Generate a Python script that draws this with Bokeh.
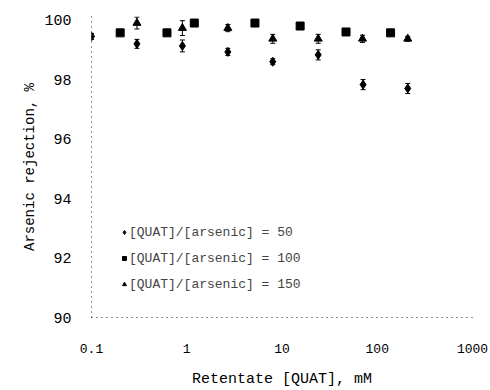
from bokeh.plotting import figure
from bokeh.models import (ColumnDataSource, Whisker, TeeHead, FixedTicker,
                          CustomJSTickFormatter, Legend, LegendItem, Range1d)
from bokeh.embed import file_html
from bokeh.resources import INLINE

# Data
ratio50_x = [0.1, 0.3, 0.9, 2.7, 8.0, 24, 71, 209]
ratio50_y = [99.45, 99.2, 99.13, 98.93, 98.6, 98.83, 97.83, 97.7]
ratio50_err = [0.1, 0.15, 0.2, 0.12, 0.1, 0.17, 0.17, 0.17]

ratio100_x = [0.2, 0.62, 1.2, 5.2, 15.5, 47, 138]
ratio100_y = [99.57, 99.57, 99.9, 99.9, 99.8, 99.6, 99.57]
ratio100_err = [0.06, 0.06, 0.08, 0.08, 0.08, 0.06, 0.06]

ratio150_x = [0.3, 0.9, 2.7, 8.0, 24, 70, 209]
ratio150_y = [99.9, 99.73, 99.73, 99.37, 99.37, 99.37, 99.37]
ratio150_err = [0.2, 0.25, 0.12, 0.15, 0.15, 0.12, 0.08]

labels = ["[QUAT]/[arsenic] = 50", "[QUAT]/[arsenic] = 100", "[QUAT]/[arsenic] = 150"]
x_ticks = [0.1, 1, 10, 100, 1000]
y_ticks = [90, 92, 94, 96, 98, 100]

FONT = "Liberation Mono"

p = figure(width=488, height=390, x_axis_type="log",
           x_range=Range1d(0.1, 1000), y_range=Range1d(90, 100.12),
           output_backend="svg", toolbar_location=None,
           min_border_left=91, min_border_right=16, min_border_top=16,
           min_border_bottom=70)
p.outline_line_color = None
p.grid.visible = False
p.background_fill_color = "white"

def add_series(xs, ys, errs, marker, size):
    src = ColumnDataSource(dict(x=xs, y=ys, lo=[a - b for a, b in zip(ys, errs)],
                                hi=[a + b for a, b in zip(ys, errs)]))
    w = Whisker(source=src, base="x", lower="lo", upper="hi", dimension="height",
                line_color="black", line_width=1,
                upper_head=TeeHead(size=5, line_color="black"),
                lower_head=TeeHead(size=5, line_color="black"))
    p.add_layout(w)
    r = p.scatter("x", "y", source=src, marker=marker, size=size,
                  fill_color="black", line_color="black")
    return r

r1 = add_series(ratio50_x, ratio50_y, ratio50_err, "diamond", 9)
r2 = add_series(ratio100_x, ratio100_y, ratio100_err, "square", 8)
r3 = add_series(ratio150_x, ratio150_y, ratio150_err, "triangle", 8)

legend = Legend(items=[LegendItem(label=labels[0], renderers=[r1]),
                       LegendItem(label=labels[1], renderers=[r2]),
                       LegendItem(label=labels[2], renderers=[r3])],
                location=(28, 23), border_line_color=None,
                background_fill_alpha=0, padding=0, margin=0, spacing=6,
                glyph_width=10, glyph_height=20, label_height=20,
                label_standoff=0, label_text_font=FONT,
                label_text_font_size="13px")
p.add_layout(legend, "center")

p.xaxis.ticker = FixedTicker(ticks=x_ticks)
p.xaxis.formatter = CustomJSTickFormatter(code="return tick.toString();")
p.yaxis.ticker = FixedTicker(ticks=y_ticks)

p.xaxis.axis_label = "Retentate [QUAT], mM"
p.yaxis.axis_label = "Arsenic rejection, %"

for ax in (p.xaxis, p.yaxis):
    ax.major_tick_line_color = None
    ax.minor_tick_line_color = None
    ax.axis_line_color = "#222222"
    ax.axis_line_dash = "1 4"
    ax.major_label_text_font = FONT
    ax.major_label_text_color = "black"
    ax.axis_label_text_font = FONT
    ax.axis_label_text_font_style = "normal"
    ax.axis_label_text_color = "black"

p.xaxis.major_label_text_font_size = "13px"
p.yaxis.major_label_text_font_size = "15px"
p.xaxis.axis_label_text_font_size = "15px"
p.yaxis.axis_label_text_font_size = "14px"

p.xaxis.major_label_standoff = 20
p.xaxis.axis_label_standoff = 15
p.yaxis.major_label_standoff = 14
p.yaxis.axis_label_standoff = 3

open("out.html", "w").write(file_html(p, INLINE))
